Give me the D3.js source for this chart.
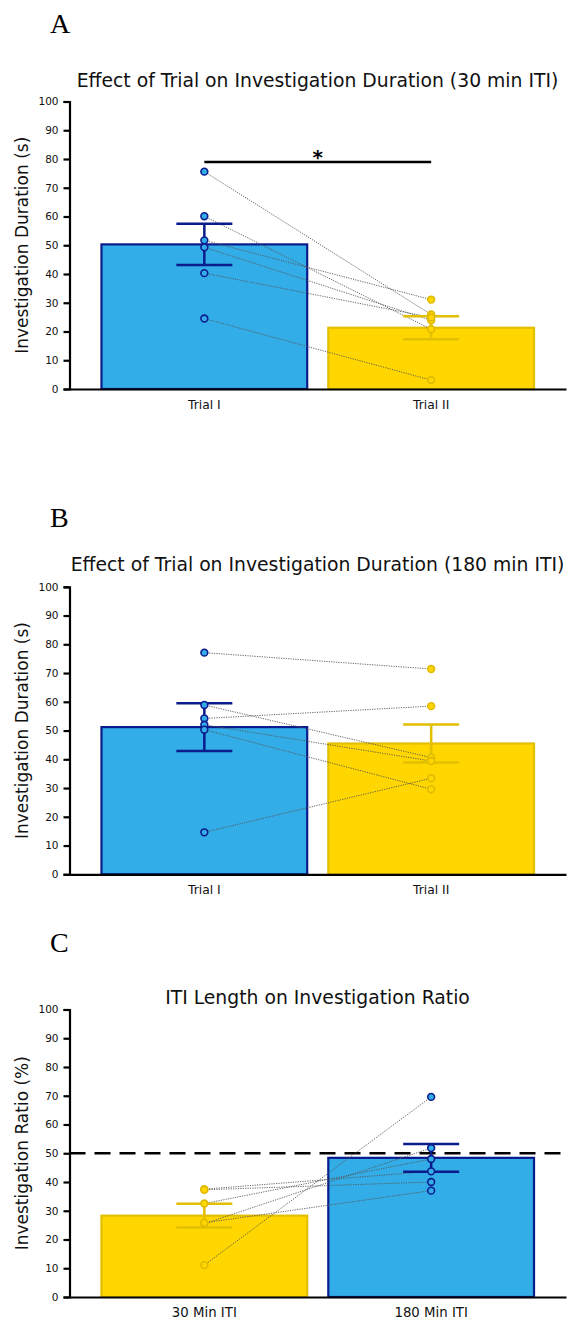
<!DOCTYPE html>
<html><head><meta charset="utf-8">
<script src="https://cdn.jsdelivr.net/npm/d3@7"></script>
<style>body{margin:0;background:#fff}</style>
</head><body><svg id="chart" width="568" height="1320"></svg>
<script>
// ---------- data ----------
const trialCategories = ["Trial I", "Trial II"];
const itiCategories = ["30 Min ITI", "180 Min ITI"];
const yTicks = [0, 10, 20, 30, 40, 50, 60, 70, 80, 90, 100];

// Panel A: 30 min ITI
const a30Trial1 = [75.6, 60.1, 51.7, 49.3, 40.3, 24.5];
const a30Trial2 = [25.9, 20.8, 31.1, 23.9, 24.9, 3.1];
const a30Means = [50.3, 21.3];
const a30Sem = [7.2, 4.0];
const a30SigLevel = 79;
const a30SigLabel = "*";

// Panel B: 180 min ITI
const b180Trial1 = [77.1, 58.9, 54.2, 52.0, 50.3, 14.6];
const b180Trial2 = [71.4, 40.6, 58.5, 39.4, 29.6, 33.4];
const b180Means = [51.2, 45.5];
const b180Sem = [8.3, 6.6];

// Panel C: investigation ratio
const cRatio30 = [37.5, 37.3, 32.5, 25.5, 25.8, 11.1];
const cRatio180 = [43.7, 40.0, 48.0, 51.8, 37.0, 69.6];
const cMeans = [28.3, 48.4];
const cSem = [4.1, 4.8];
const cChanceLevel = 50;

// ---------- styles ----------
const BLUE = {fill: "#33ade8", stroke: "#0b1b8c", err: "#0b1b8c", ptFill: "#33ade8", ptStroke: "#0b1b8c"};
const YELLOW = {fill: "#ffd600", stroke: "#e2bf00", err: "#e2bf00", ptFill: "#ffd600", ptStroke: "#dfbb00"};
const SANS = "'DejaVu Sans', sans-serif";
const SERIF = "'Liberation Serif', 'Times New Roman', serif";

const svg = d3.select("#chart");

function drawPanel(o) {
  const g = svg.append("g");
  const x = d3.scaleBand().domain(o.cats).range([69.5, 566])
    .paddingInner(0.093).paddingOuter(0.141);
  const y = d3.scaleLinear().domain([0, 100]).range([o.y0, o.y0 - 287.5]);
  const cx = c => x(c) + x.bandwidth() / 2;
  const groups = o.cats.map((c, i) => ({cat: c, vals: o.values[i], mean: o.means[i], sem: o.sems[i], col: o.colors[i]}));

  // bars
  g.selectAll("rect.bar").data(groups).join("rect")
    .attr("x", d => x(d.cat)).attr("y", d => y(d.mean))
    .attr("width", x.bandwidth()).attr("height", d => y(0) - y(d.mean))
    .attr("fill", d => d.col.fill).attr("stroke", d => d.col.stroke).attr("stroke-width", 2.2);

  // reference line
  if (o.refLine !== undefined) {
    g.append("line").attr("x1", x.range()[0]).attr("x2", x.range()[1])
      .attr("y1", y(o.refLine)).attr("y2", y(o.refLine))
      .attr("stroke", "#000").attr("stroke-width", 2.4).attr("stroke-dasharray", "16,9");
  }

  // connectors
  const pairs = o.values[0].map((v, i) => [v, o.values[1][i]]);
  g.selectAll("line.conn").data(pairs).join("line")
    .attr("x1", cx(o.cats[0])).attr("x2", cx(o.cats[1]))
    .attr("y1", d => y(d[0])).attr("y2", d => y(d[1]))
    .attr("stroke", "#555").attr("stroke-width", 0.9).attr("stroke-dasharray", "1.2,1.2");

  // error bars
  groups.forEach(d => {
    const e = g.append("g").attr("stroke", d.col.err).attr("stroke-width", 2.5);
    e.append("line").attr("x1", cx(d.cat)).attr("x2", cx(d.cat))
      .attr("y1", y(d.mean + d.sem)).attr("y2", y(d.mean - d.sem));
    [d.mean + d.sem, d.mean - d.sem].forEach(v => {
      e.append("line").attr("x1", cx(d.cat) - 28).attr("x2", cx(d.cat) + 28)
        .attr("y1", y(v)).attr("y2", y(v));
    });
  });

  // points
  groups.forEach(d => {
    g.selectAll(null).data(d.vals).join("circle")
      .attr("cx", cx(d.cat)).attr("cy", v => y(v)).attr("r", 3.4)
      .attr("fill", d.col.ptFill).attr("stroke", d.col.ptStroke).attr("stroke-width", 1.6);
  });

  // significance
  if (o.sig) {
    g.append("line").attr("x1", cx(o.cats[0])).attr("x2", cx(o.cats[1]))
      .attr("y1", y(o.sig.level)).attr("y2", y(o.sig.level))
      .attr("stroke", "#000").attr("stroke-width", 2.5);
    g.append("text").attr("x", (cx(o.cats[0]) + cx(o.cats[1])) / 2)
      .attr("y", y(o.sig.level) + 2).attr("text-anchor", "middle")
      .attr("font-family", SANS).attr("font-weight", "bold").attr("font-size", 20)
      .text(o.sig.label);
  }

  // axes
  const ya = g.append("g").attr("transform", "translate(69.5,0)")
    .call(d3.axisLeft(y).tickValues(yTicks).tickSize(6).tickPadding(5));
  const xa = g.append("g").attr("transform", `translate(0,${o.y0})`)
    .call(d3.axisBottom(x).tickSize(0).tickPadding(11));
  [ya, xa].forEach(a => {
    a.selectAll("path,line").attr("stroke", "#000").attr("stroke-width", 2.2);
    a.selectAll("text").attr("fill", "#111").attr("font-family", SANS);
  });
  ya.selectAll("text").attr("font-size", 10.5);
  xa.selectAll("text").attr("font-size", o.xFont);

  // titles
  g.append("text").attr("x", 317.5).attr("y", o.titleY).attr("text-anchor", "middle")
    .attr("font-family", SANS).attr("font-size", 18.8).attr("fill", "#111").text(o.title);
  g.append("text").attr("transform", `translate(28,${(y(0) + y(100)) / 2}) rotate(-90)`)
    .attr("text-anchor", "middle").attr("font-family", SANS).attr("font-size", 17)
    .attr("fill", "#111").text(o.ylabel);
  g.append("text").attr("x", 50).attr("y", o.letterY)
    .attr("font-family", SERIF).attr("font-size", 28).attr("fill", "#000").text(o.letter);
}

drawPanel({
  letter: "A", letterY: 33, titleY: 87, y0: 389,
  title: "Effect of Trial on Investigation Duration (30 min ITI)",
  ylabel: "Investigation Duration (s)",
  cats: trialCategories, values: [a30Trial1, a30Trial2], means: a30Means, sems: a30Sem,
  colors: [BLUE, YELLOW], xFont: 12.3,
  sig: {level: a30SigLevel, label: a30SigLabel}
});

drawPanel({
  letter: "B", letterY: 527, titleY: 571, y0: 874.3,
  title: "Effect of Trial on Investigation Duration (180 min ITI)",
  ylabel: "Investigation Duration (s)",
  cats: trialCategories, values: [b180Trial1, b180Trial2], means: b180Means, sems: b180Sem,
  colors: [BLUE, YELLOW], xFont: 12.3
});

drawPanel({
  letter: "C", letterY: 952, titleY: 1004, y0: 1297,
  title: "ITI Length on Investigation Ratio",
  ylabel: "Investigation Ratio (%)",
  cats: itiCategories, values: [cRatio30, cRatio180], means: cMeans, sems: cSem,
  colors: [YELLOW, BLUE], xFont: 13.3, refLine: cChanceLevel
});
</script>
</body></html>
